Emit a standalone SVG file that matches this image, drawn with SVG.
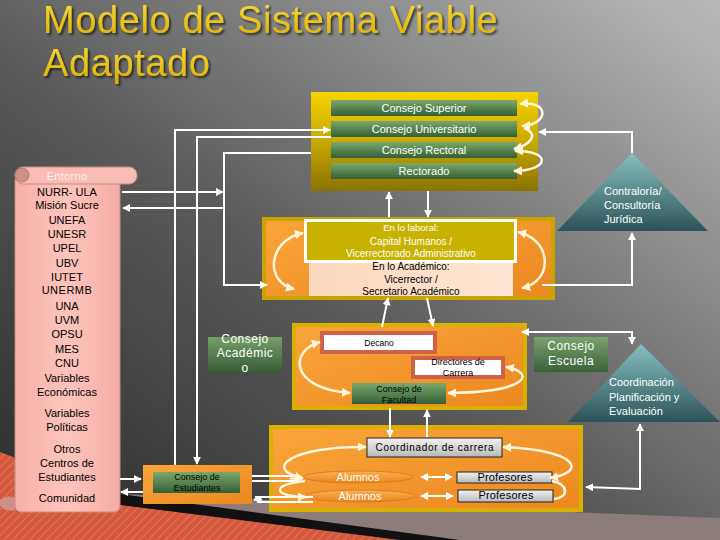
<svg xmlns="http://www.w3.org/2000/svg" width="720" height="540" viewBox="0 0 720 540">
<defs>
<linearGradient id="bg" x1="0" y1="1" x2="1" y2="0"><stop offset="0" stop-color="#2a2a2a"/><stop offset="0.45" stop-color="#5a5a5a"/><stop offset="1" stop-color="#bababa"/></linearGradient>
<linearGradient id="title" x1="0" y1="0" x2="0" y2="1"><stop offset="0" stop-color="#f8dc3a"/><stop offset="1" stop-color="#dcae00"/></linearGradient>
<linearGradient id="gold" x1="0" y1="0" x2="0" y2="1"><stop offset="0" stop-color="#f4d400"/><stop offset="0.5" stop-color="#c8a800"/><stop offset="1" stop-color="#8a7200"/></linearGradient>
<linearGradient id="green" x1="0" y1="0" x2="0" y2="1"><stop offset="0" stop-color="#7aa86c"/><stop offset="1" stop-color="#355f34"/></linearGradient>
<linearGradient id="orange" x1="0" y1="0" x2="1" y2="1"><stop offset="0" stop-color="#f9a53a"/><stop offset="1" stop-color="#ec8820"/></linearGradient>
<linearGradient id="teal" x1="0" y1="0" x2="0" y2="1"><stop offset="0" stop-color="#86c0c0"/><stop offset="1" stop-color="#2c5458"/></linearGradient>
<linearGradient id="pink" x1="0" y1="0" x2="1" y2="0"><stop offset="0" stop-color="#f6b0a8"/><stop offset="0.5" stop-color="#fcc4bc"/><stop offset="1" stop-color="#f6aca4"/></linearGradient>
<linearGradient id="peach" x1="0" y1="0" x2="1" y2="0"><stop offset="0" stop-color="#fcd8bc"/><stop offset="1" stop-color="#fde6d4"/></linearGradient>
<linearGradient id="gray" x1="0" y1="0" x2="0" y2="1"><stop offset="0" stop-color="#f2f2f2"/><stop offset="1" stop-color="#b8b8b8"/></linearGradient>
<linearGradient id="ell" x1="0" y1="0" x2="0" y2="1"><stop offset="0" stop-color="#fbb050"/><stop offset="1" stop-color="#e8861c"/></linearGradient>
<pattern id="stripe" width="6" height="6" patternUnits="userSpaceOnUse" patternTransform="rotate(45)"><rect width="6" height="6" fill="#d4583c"/><line x1="0" y1="0" x2="0" y2="6" stroke="#e88068" stroke-width="1.5"/></pattern>
<filter id="sh" x="-5%" y="-20%" width="110%" height="140%"><feDropShadow dx="2" dy="2" stdDeviation="1" flood-color="#000" flood-opacity="0.6"/></filter>
<marker id="ah" viewBox="0 0 10 10" refX="9" refY="5" markerWidth="8" markerHeight="8" markerUnits="userSpaceOnUse" orient="auto-start-reverse"><path d="M0,0 L10,5 L0,10 z" fill="#ffffff"/></marker>
<marker id="ac" viewBox="0 0 10 10" refX="9" refY="5" markerWidth="9" markerHeight="9" markerUnits="userSpaceOnUse" orient="auto-start-reverse"><path d="M0,0 L10,5 L0,10 z" fill="#fff6dc"/></marker>
</defs>
<style>
text{font-family:"Liberation Sans",Arial,sans-serif}
.w{stroke:#ffffff;stroke-width:2;fill:none}
.c{stroke:#fff6dc;stroke-width:2.5;fill:none}
.bar{fill:url(#green)}
.bt{fill:#ffffff;font-size:11px;text-anchor:middle}
.ob{fill:url(#orange);stroke:#d8b000;stroke-width:4}
.ent{font-size:11px;fill:#000;text-anchor:middle}
.blk{fill:#000;text-anchor:middle}
.wt{fill:#fff;text-anchor:middle}
.tri{fill:url(#teal)}
.tt{fill:#fff;font-size:11px}
.ttl{font-size:38px;fill:url(#title);letter-spacing:0.6px;filter:url(#sh)}
</style>

<rect width="720" height="540" fill="url(#bg)"/>
<polygon points="120,494 720,518 720,540 400,540" fill="#8c7c7a"/>
<polygon points="0,452 120,498 400,540 0,540" fill="url(#stripe)"/>
<polygon points="120,494 460,540 400,540 120,505" fill="#111111"/>

<g id="title">
<text class="ttl" x="43" y="33">Modelo de Sistema Viable</text>
<text class="ttl" x="43" y="76">Adaptado</text>
</g>

<g id="entorno">
<rect x="15" y="175" width="105" height="337" rx="6" fill="url(#pink)" stroke="#c88a84" stroke-width="1"/>
<rect x="15" y="167" width="122" height="17" rx="8" fill="#f8bcb4" stroke="#c88a84" stroke-width="1"/>
<circle cx="22" cy="175" r="7" fill="#d09088" stroke="#b07870"/>
<path d="M0,500 Q8,494 15,498 L15,510 Q6,512 0,506 z" fill="#d09088"/>
<text x="67" y="180" font-size="11" fill="#fff0ea" text-anchor="middle" letter-spacing="0.3">Entorno</text>
<text class="ent" x="67" y="196">NURR- ULA</text>
<text class="ent" x="67" y="209">Misión Sucre</text>
<text class="ent" x="67" y="224">UNEFA</text>
<text class="ent" x="67" y="238">UNESR</text>
<text class="ent" x="67" y="252">UPEL</text>
<text class="ent" x="67" y="267">UBV</text>
<text class="ent" x="67" y="281">IUTET</text>
<text class="ent" x="67" y="294" letter-spacing="0.5">UNERMB</text>
<text class="ent" x="67" y="310">UNA</text>
<text class="ent" x="67" y="324">UVM</text>
<text class="ent" x="67" y="338">OPSU</text>
<text class="ent" x="67" y="353">MES</text>
<text class="ent" x="67" y="367">CNU</text>
<text class="ent" x="67" y="382">Variables</text>
<text class="ent" x="67" y="396">Económicas</text>
<text class="ent" x="67" y="417">Variables</text>
<text class="ent" x="67" y="431">Políticas</text>
<text class="ent" x="67" y="453">Otros</text>
<text class="ent" x="67" y="467">Centros de</text>
<text class="ent" x="67" y="481">Estudiantes</text>
<text class="ent" x="67" y="502">Comunidad</text>
</g>

<g id="direccion">
<rect x="311" y="92" width="227" height="99" fill="url(#gold)"/>
<rect class="bar" x="331" y="100" width="186" height="16"/>
<rect class="bar" x="331" y="121" width="186" height="16"/>
<rect class="bar" x="331" y="142" width="186" height="16"/>
<rect class="bar" x="331" y="163" width="186" height="16"/>
<text class="bt" x="424" y="112">Consejo Superior</text>
<text class="bt" x="424" y="133">Consejo Universitario</text>
<text class="bt" x="424" y="154">Consejo Rectoral</text>
<text class="bt" x="424" y="175">Rectorado</text>
</g>

<g id="vicerrectorado">
<rect x="264" y="219" width="289" height="79" fill="url(#orange)" stroke="#c8a400" stroke-width="4"/>
<rect x="309" y="258" width="204" height="38" fill="url(#peach)"/>
<rect x="305.5" y="220.5" width="210" height="41" fill="#c8b200" stroke="#ffffff" stroke-width="3"/>
<text class="wt" x="411" y="231" font-size="9.5">En lo laboral:</text>
<text class="wt" x="411" y="245" font-size="10">Capital Humanos /</text>
<text class="wt" x="411" y="257" font-size="10">Vicerrectorado Administrativo</text>
<text class="blk" x="411" y="270" font-size="10">En lo Académico:</text>
<text class="blk" x="411" y="283" font-size="10">Vicerrector /</text>
<text class="blk" x="411" y="295" font-size="10">Secretario Académico</text>
</g>

<g id="contraloria">
<polygon class="tri" points="632,153 557,231 708,231"/>
<text class="tt" x="604" y="195">Contraloría/</text>
<text class="tt" x="604" y="209">Consultoría</text>
<text class="tt" x="604" y="223">Jurídica</text>
</g>

<g id="consejo-academico">
<rect x="208" y="337" width="74" height="35" fill="url(#green)" opacity="0.9"/>
<text class="wt" x="245" y="343" font-size="12" letter-spacing="0.5">Consejo</text>
<text class="wt" x="245" y="357" font-size="12" letter-spacing="0.5">Académic</text>
<text class="wt" x="245" y="372" font-size="12" letter-spacing="0.5">o</text>
</g>

<g id="facultad">
<rect class="ob" x="294" y="325" width="231" height="83"/>
<rect x="322" y="333" width="113" height="19" fill="#ffffff" stroke="#d06048" stroke-width="4"/>
<text class="blk" x="379" y="346" font-size="8.5">Decano</text>
<rect x="413" y="358" width="90" height="19" fill="#ffffff" stroke="#d06048" stroke-width="4"/>
<text class="blk" x="458" y="365" font-size="9">Directores de</text>
<text class="blk" x="458" y="376" font-size="9">Carrera</text>
<rect x="352" y="383" width="94" height="21" fill="url(#green)"/>
<text class="blk" x="399" y="392" font-size="9">Consejo de</text>
<text class="blk" x="399" y="403" font-size="9">Facultad</text>
</g>

<g id="consejo-escuela">
<rect x="534" y="337" width="74" height="35" fill="url(#green)" opacity="0.9"/>
<text class="wt" x="571" y="350" font-size="12" letter-spacing="0.5">Consejo</text>
<text class="wt" x="571" y="365" font-size="12" letter-spacing="0.5">Escuela</text>
</g>

<g id="coordinacion">
<polygon class="tri" points="641,344 568,422 720,422"/>
<text class="tt" x="609" y="386">Coordinación</text>
<text class="tt" x="609" y="401">Planificación y</text>
<text class="tt" x="609" y="415">Evaluación</text>
</g>

<g id="carrera">
<rect class="ob" x="271" y="427" width="310" height="83"/>
<rect x="367" y="438" width="135" height="19" fill="url(#gray)" stroke="#222" stroke-width="1"/>
<text class="blk" x="435" y="451" font-size="10" letter-spacing="0.7">Coordinador de carrera</text>
<ellipse cx="358" cy="477" rx="55" ry="6" fill="url(#ell)" stroke="#d07818" stroke-width="0.8"/>
<text class="wt" x="358" y="481" font-size="11">Alumnos</text>
<ellipse cx="360" cy="496" rx="55" ry="6" fill="url(#ell)" stroke="#d07818" stroke-width="0.8"/>
<text class="wt" x="360" y="500" font-size="11">Alumnos</text>
<rect x="457" y="472" width="95" height="11" fill="url(#gray)" stroke="#222" stroke-width="1"/>
<text class="blk" x="505" y="481" font-size="11" letter-spacing="0.2">Profesores</text>
<rect x="458" y="490" width="95" height="12" fill="url(#gray)" stroke="#222" stroke-width="1"/>
<text class="blk" x="506" y="499" font-size="11" letter-spacing="0.2">Profesores</text>
</g>

<g id="consejo-estudiantes">
<rect x="143" y="465" width="109" height="39" fill="url(#orange)"/>
<rect x="153" y="472" width="87" height="21" fill="url(#green)"/>
<text class="blk" x="197" y="480" font-size="9">Consejo de</text>
<text class="blk" x="197" y="491" font-size="9">Estudiantes</text>
</g>

<g id="connectors">
<path class="w" d="M632,153 V132 H539" marker-end="url(#ah)"/>
<path class="w" d="M542,285 H632 V233" marker-end="url(#ah)"/>
<path class="w" d="M389,217 V192" marker-end="url(#ah)"/>
<path class="w" d="M428,191 V217" marker-end="url(#ah)"/>
<path class="w" d="M382,327 L388,298" marker-end="url(#ah)"/>
<path class="w" d="M427,298 L433,326" marker-end="url(#ah)"/>
<path class="w" d="M522,332 H632 V344" marker-start="url(#ah)" marker-end="url(#ah)"/>
<path class="w" d="M586,487 L640,489 V424" marker-start="url(#ah)" marker-end="url(#ah)"/>
<path class="w" d="M390,408 V437" marker-end="url(#ah)"/>
<path class="w" d="M427,437 V410" marker-end="url(#ah)"/>
<path class="w" d="M122,192 H223" marker-end="url(#ah)"/>
<path class="w" d="M225,208 H123" marker-end="url(#ah)"/>
<path class="w" d="M311,153 H224 V285 H267" marker-end="url(#ah)"/>
<path class="w" d="M175,465 V130 H330" marker-end="url(#ah)"/>
<path class="w" d="M331,137 H197 V464" marker-end="url(#ah)"/>
<path class="w" d="M120,479 H141" marker-end="url(#ah)"/>
<path class="w" d="M143,492 H121" marker-end="url(#ah)"/>
<path class="w" d="M252,476 H296 M252,481 H300" stroke-width="1.6"/>
<path class="w" d="M290,478.5 H302" marker-end="url(#ah)"/>
<path class="w" d="M313,497 H255 M313,502 H257" stroke-width="1.6"/>
<path class="w" d="M262,499.5 H254" marker-end="url(#ah)"/>
<path class="w" d="M421,477 H452" marker-start="url(#ah)" marker-end="url(#ah)"/>
<path class="w" d="M421,496 H453" marker-start="url(#ah)" marker-end="url(#ah)"/>
<path class="c" d="M520,104 C549,100 550,124 522,126" marker-start="url(#ac)" marker-end="url(#ac)"/>
<path class="c" d="M524,128 C540,134 530,145 514,149" marker-end="url(#ac)"/>
<path class="c" d="M515,151 C550,150 552,170 514,171" marker-start="url(#ac)" marker-end="url(#ac)"/>
<path class="c" d="M303,233 C268,240 264,282 294,289" marker-start="url(#ac)" marker-end="url(#ac)"/>
<path class="c" d="M518,232 C553,240 553,282 522,288" marker-start="url(#ac)" marker-end="url(#ac)"/>
<path class="c" d="M320,342 C290,350 288,388 350,393" marker-start="url(#ac)" marker-end="url(#ac)"/>
<path class="c" d="M506,367 C535,372 532,392 448,393" marker-start="url(#ac)" marker-end="url(#ac)"/>
<path class="c" d="M366,447 C290,446 262,470 303,478" marker-start="url(#ac)" marker-end="url(#ac)"/>
<path class="c" d="M305,481 C268,485 275,497 306,497" marker-end="url(#ac)"/>
<path class="c" d="M503,447 C578,450 588,472 550,478" marker-start="url(#ac)" marker-end="url(#ac)"/>
<path class="c" d="M552,481 C570,485 568,498 554,499"/>
</g>
</svg>
